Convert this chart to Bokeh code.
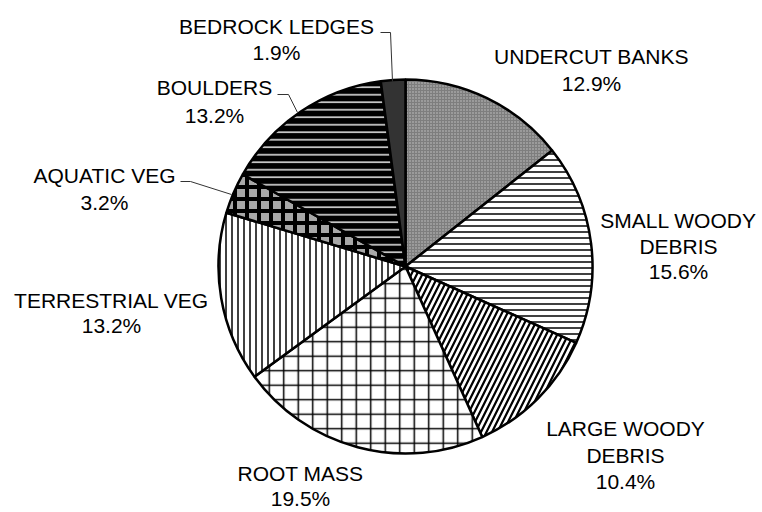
import math
from bokeh.plotting import figure
from bokeh.models import Range1d
from bokeh.embed import file_html
from bokeh.resources import INLINE
from bokeh.core.properties import value

# ---------------- data ----------------
categories = ["UNDERCUT BANKS", "SMALL WOODY DEBRIS", "LARGE WOODY DEBRIS", "ROOT MASS",
              "TERRESTRIAL VEG", "AQUATIC VEG", "BOULDERS", "BEDROCK LEDGES"]
label_lines = [["UNDERCUT BANKS"], ["SMALL WOODY", "DEBRIS"], ["LARGE WOODY", "DEBRIS"],
               ["ROOT MASS"], ["TERRESTRIAL VEG"], ["AQUATIC VEG"], ["BOULDERS"],
               ["BEDROCK LEDGES"]]
percents = [12.9, 15.6, 10.4, 19.5, 13.2, 3.2, 13.2, 1.9]

# ---------------- layout (canvas pixel coordinates, origin top-left) ----------------
W, H = 762, 512
CX, CY, R = 405, 266, 187
# label anchor: centre x, baseline of first line, line step
label_pos = [(591, 56, 27), (678, 220, 25.5), (625, 428, 26.5), (300, 473, 24.5),
             (111, 300, 25), (104, 175, 27), (214, 87, 28), (276, 26, 26)]
leaders = {
    5: [(180, 181), (190, 181), (231, 194)],
    6: [(277, 94), (288, 94), (297, 112)],
    7: [(380, 32), (390, 32), (392, 81)],
}

styles = [
    dict(fill_color="#7e7e7e", hatch_pattern="dot", hatch_color="#c4c4c4", hatch_scale=3, hatch_weight=1),
    dict(fill_color="white", hatch_pattern="horizontal_line", hatch_color="black", hatch_scale=6, hatch_weight=1.5),
    dict(fill_color="white", hatch_pattern="right_diagonal_line", hatch_color="black", hatch_scale=11, hatch_weight=2.2),
    dict(fill_color="white", hatch_pattern="cross", hatch_color="black", hatch_scale=14.5, hatch_weight=1.5),
    dict(fill_color="white", hatch_pattern="vertical_line", hatch_color="black", hatch_scale=6, hatch_weight=1.5),
    dict(fill_color="#a8a8a8", hatch_pattern="cross", hatch_color="black", hatch_scale=12, hatch_weight=4),
    dict(fill_color="black", hatch_pattern="horizontal_line", hatch_color="#dddddd", hatch_scale=7.5, hatch_weight=1.6),
    dict(fill_color="#333333"),
]


def px(x):
    return x


def py(y):
    return H - y


p = figure(width=W, height=H, output_backend="svg", toolbar_location=None, title=None,
           x_range=Range1d(0, W), y_range=Range1d(0, H),
           x_axis_location=None, y_axis_location=None,
           min_border=0, outline_line_color=None)
p.grid.visible = False
p.background_fill_color = "white"
p.border_fill_color = "white"

total = sum(percents)
cum = 0.0
for i, v in enumerate(percents):
    a0 = math.pi / 2 - 2 * math.pi * cum / total
    cum += v
    a1 = math.pi / 2 - 2 * math.pi * cum / total
    p.wedge(x=px(CX), y=py(CY), radius=R, start_angle=a0, end_angle=a1,
            direction="clock", line_color="black", line_width=2.5, **styles[i])

for i, (lines, v) in enumerate(zip(label_lines, percents)):
    all_lines = lines + [f"{v}%"]
    lx, ly, step = label_pos[i]
    xs = [px(lx)] * len(all_lines)
    ys = [py(ly + k * step) for k in range(len(all_lines))]
    p.text(x=xs, y=ys, text=all_lines, text_align="center", text_baseline="alphabetic",
           text_font=value("Liberation Sans"), text_font_size="21px", text_color="black")

for i, pts in leaders.items():
    p.line(x=[px(a) for a, b in pts], y=[py(b) for a, b in pts], line_color="#333333", line_width=1)

open("out.html", "w").write(file_html(p, INLINE))
